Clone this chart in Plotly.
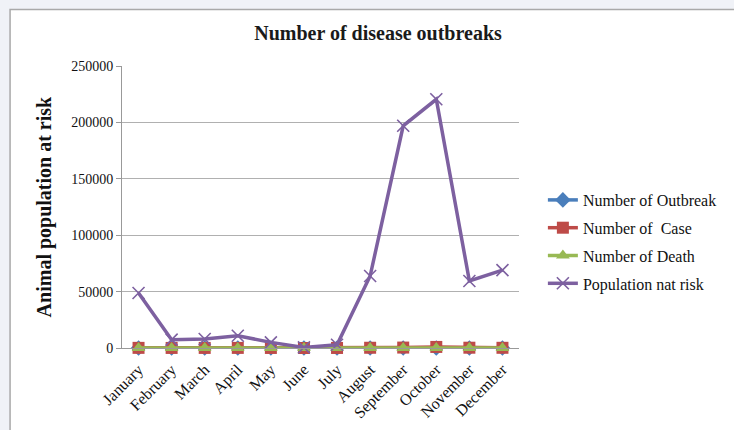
import plotly.graph_objects as go

months = ["January", "February", "March", "April", "May", "June", "July",
          "August", "September", "October", "November", "December"]
outbreaks = [4, 2, 3, 3, 2, 1, 2, 5, 7, 9, 4, 3]
cases = [120, 60, 75, 90, 40, 15, 35, 210, 380, 950, 260, 180]
deaths = [18, 8, 10, 12, 5, 2, 6, 30, 55, 110, 35, 20]
population = [48800, 7400, 8000, 10900, 5000, 500, 2900,
              63800, 197000, 220500, 59400, 69000]
y_ticks = [0, 50000, 100000, 150000, 200000, 250000]

W, H = 734, 430
L, R, T, B = 122, 213, 66, 82
PW, PH = W - L - R, H - T - B

SERIF = "Liberation Serif, Times New Roman, serif"

fig = go.Figure()
series = [
    ("Number of Outbreak", outbreaks, "#4a7ebb", dict(symbol="diamond", size=12)),
    ("Number of  Case", cases, "#be4b48", dict(symbol="square", size=12)),
    ("Number of Death", deaths, "#98b954", dict(symbol="triangle-up", size=12)),
    ("Population nat risk", population, "#7d60a0",
     dict(symbol="x-thin-open", size=12, line=dict(width=1.6, color="#7d60a0"))),
]
for i, (name, vals, color, mk) in enumerate(series):
    fig.add_trace(go.Scatter(
        x=months, y=vals, name=name, mode="lines+markers",
        line=dict(color=color, width=3.5),
        marker=dict(color=color, **mk),
        legendgroup=f"g{i}", cliponaxis=False,
    ))

def px_x(p):
    return (p - L) / PW

def px_y(p):
    return 1 - (p - T) / PH

# white chart area with a thin gray frame on the gray page
fig.add_shape(type="rect", xref="paper", yref="paper",
              x0=px_x(9.5), x1=px_x(760), y0=px_y(460), y1=px_y(9.5),
              fillcolor="white", line=dict(color="#a9a9a9", width=1.5),
              layer="below")

fig.add_annotation(text="<b>Animal population at risk</b>", textangle=-90,
                   xref="paper", yref="paper", x=px_x(44), y=px_y(207),
                   xanchor="center", yanchor="middle",
                   showarrow=False, font=dict(family=SERIF, size=20, color="#111"))

fig.update_layout(
    width=W, height=H,
    margin=dict(l=L, r=R, t=T, b=B),
    paper_bgcolor="#f0f2f7",
    plot_bgcolor="white",
    title=dict(text="<b>Number of disease outbreaks</b>", x=378 / W, xanchor="center",
               y=1 - 33 / H, yanchor="middle",
               font=dict(family=SERIF, size=20, color="#1a1a1a")),
    font=dict(family=SERIF, size=14, color="#222"),
    showlegend=True,
    legend=dict(x=px_x(545), y=px_y(183), xanchor="left", yanchor="top",
                bgcolor="rgba(0,0,0,0)", tracegroupgap=4,
                font=dict(family=SERIF, size=16, color="#111")),
    xaxis=dict(type="category", categoryorder="array", categoryarray=months,
               tickangle=-45, showgrid=False, showline=True, linecolor="#999",
               linewidth=1, ticks="", ticklabelstandoff=5, automargin=False,
               tickfont=dict(family=SERIF, size=16, color="#111"),
               range=[-0.5, 11.5], zeroline=False),
    yaxis=dict(range=[0, 250000], tickvals=y_ticks, ticktext=[str(v) for v in y_ticks],
               showgrid=True, gridcolor="#b0b0b0", gridwidth=1,
               showline=True, linecolor="#999", linewidth=1, automargin=False,
               ticks="outside", ticklen=5, tickcolor="#999",
               zeroline=False, tickfont=dict(family=SERIF, size=14, color="#111")),
)

fig.write_html("out.html")
